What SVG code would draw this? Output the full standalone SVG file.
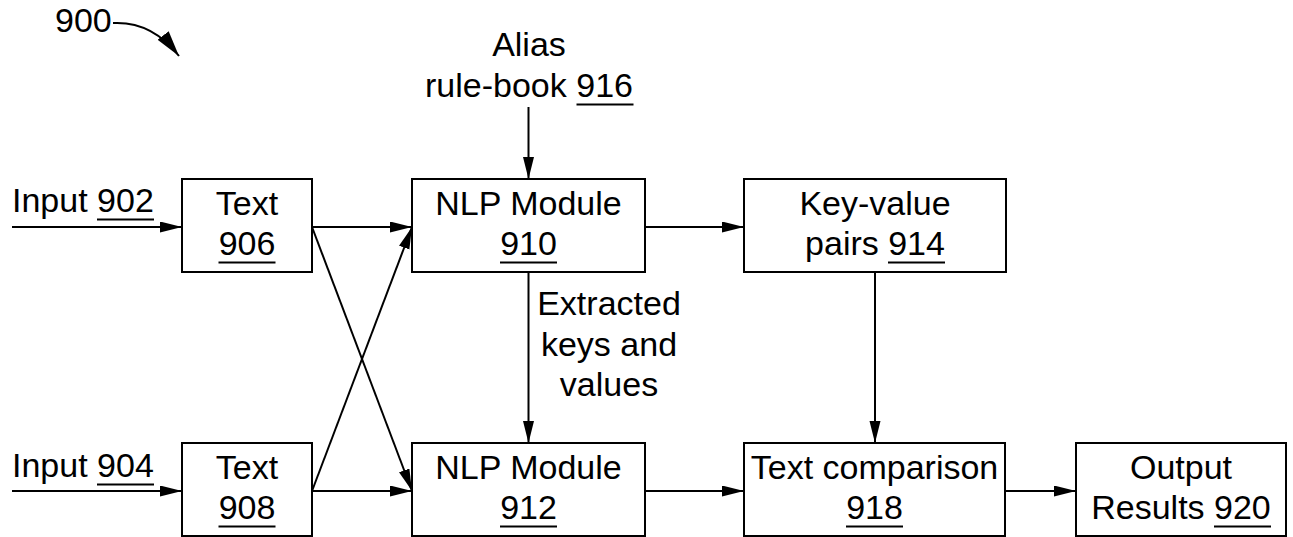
<svg xmlns="http://www.w3.org/2000/svg" width="1293" height="537" viewBox="0 0 1293 537">
  <style>
    text { font-family: "Liberation Sans", Arial, sans-serif; font-size: 34px; fill: #000; }
    .c { text-anchor: middle; }
    .box { fill: #fff; stroke: #000; stroke-width: 2; }
    .ul { stroke: #000; stroke-width: 2; }
    .wire { fill: none; stroke: #000; stroke-width: 2; }
    .arr { marker-end: url(#head); }
  </style>
  <defs>
    <marker id="head" markerUnits="userSpaceOnUse" markerWidth="24" markerHeight="12" refX="22" refY="5.5" orient="auto">
      <path d="M0,0 L22,5.5 L0,11 z" fill="#000"/>
    </marker>
    <marker id="head-lg" markerUnits="userSpaceOnUse" markerWidth="28" markerHeight="16" refX="26" refY="7" orient="auto">
      <path d="M0,0 L26,7 L0,14 z" fill="#000"/>
    </marker>
  </defs>

  <!-- figure reference -->
  <g id="fig-label">
    <text x="55" y="32">900</text>
    <path class="wire" marker-end="url(#head-lg)" stroke-width="1.6" d="M113,23 Q152,21 179,56"/>
  </g>

  <!-- nodes -->
  <g id="input-902">
    <text x="12" y="212">Input 902</text>
    <line class="ul" x1="97" y1="219.5" x2="154" y2="219.5"/>
  </g>
  <g id="input-904">
    <text x="12" y="477">Input 904</text>
    <line class="ul" x1="97" y1="484.5" x2="154" y2="484.5"/>
  </g>
  <g id="alias-916">
    <text class="c" x="529" y="56">Alias</text>
    <text class="c" x="529" y="97">rule-book 916</text>
    <line class="ul" x1="576.5" y1="104.5" x2="633.5" y2="104.5"/>
  </g>
  <g id="text-906">
    <rect class="box" x="182" y="179" width="130" height="93"/>
    <text class="c" x="247" y="215">Text</text>
    <text class="c" x="247" y="255">906</text>
    <line class="ul" x1="218.5" y1="262.5" x2="275.5" y2="262.5"/>
  </g>
  <g id="text-908">
    <rect class="box" x="182" y="443" width="130" height="93"/>
    <text class="c" x="247" y="479">Text</text>
    <text class="c" x="247" y="519">908</text>
    <line class="ul" x1="218.5" y1="526.5" x2="275.5" y2="526.5"/>
  </g>
  <g id="nlp-910">
    <rect class="box" x="412" y="179" width="233" height="93"/>
    <text class="c" x="528.5" y="215">NLP Module</text>
    <text class="c" x="528.5" y="255">910</text>
    <line class="ul" x1="500" y1="262.5" x2="557" y2="262.5"/>
  </g>
  <g id="nlp-912">
    <rect class="box" x="412" y="443" width="233" height="93"/>
    <text class="c" x="528.5" y="479">NLP Module</text>
    <text class="c" x="528.5" y="519">912</text>
    <line class="ul" x1="500" y1="526.5" x2="557" y2="526.5"/>
  </g>
  <g id="kv-914">
    <rect class="box" x="744" y="179" width="262" height="93"/>
    <text class="c" x="875" y="215">Key-value</text>
    <text class="c" x="875" y="255">pairs 914</text>
    <line class="ul" x1="888" y1="262.5" x2="945" y2="262.5"/>
  </g>
  <g id="compare-918">
    <rect class="box" x="744" y="443" width="261" height="93"/>
    <text class="c" x="874.5" y="479">Text comparison</text>
    <text class="c" x="874.5" y="519">918</text>
    <line class="ul" x1="846" y1="526.5" x2="903" y2="526.5"/>
  </g>
  <g id="output-920">
    <rect class="box" x="1076" y="443" width="210" height="93"/>
    <text class="c" x="1181" y="479">Output</text>
    <text class="c" x="1181" y="519">Results 920</text>
    <line class="ul" x1="1214" y1="526.5" x2="1271" y2="526.5"/>
  </g>
  <g id="edge-label">
    <text class="c" x="609" y="315">Extracted</text>
    <text class="c" x="609" y="356">keys and</text>
    <text class="c" x="609" y="396">values</text>
  </g>

  <!-- connectors -->
  <g id="connectors">
    <line class="wire arr" x1="12" y1="227" x2="182" y2="227"/>
    <line class="wire arr" x1="12" y1="491" x2="182" y2="491"/>
    <line class="wire arr" x1="312" y1="227" x2="412" y2="227"/>
    <line class="wire arr" x1="312" y1="491" x2="412" y2="491"/>
    <line class="wire arr" x1="312" y1="227" x2="412" y2="491"/>
    <line class="wire arr" x1="312" y1="491" x2="412" y2="227"/>
    <line class="wire arr" x1="528.5" y1="107" x2="528.5" y2="179"/>
    <line class="wire arr" x1="528.5" y1="272" x2="528.5" y2="443"/>
    <line class="wire arr" x1="645" y1="227" x2="744" y2="227"/>
    <line class="wire arr" x1="645" y1="491" x2="744" y2="491"/>
    <line class="wire arr" x1="875" y1="272" x2="875" y2="443"/>
    <line class="wire arr" x1="1005" y1="491" x2="1076" y2="491"/>
  </g>
</svg>
